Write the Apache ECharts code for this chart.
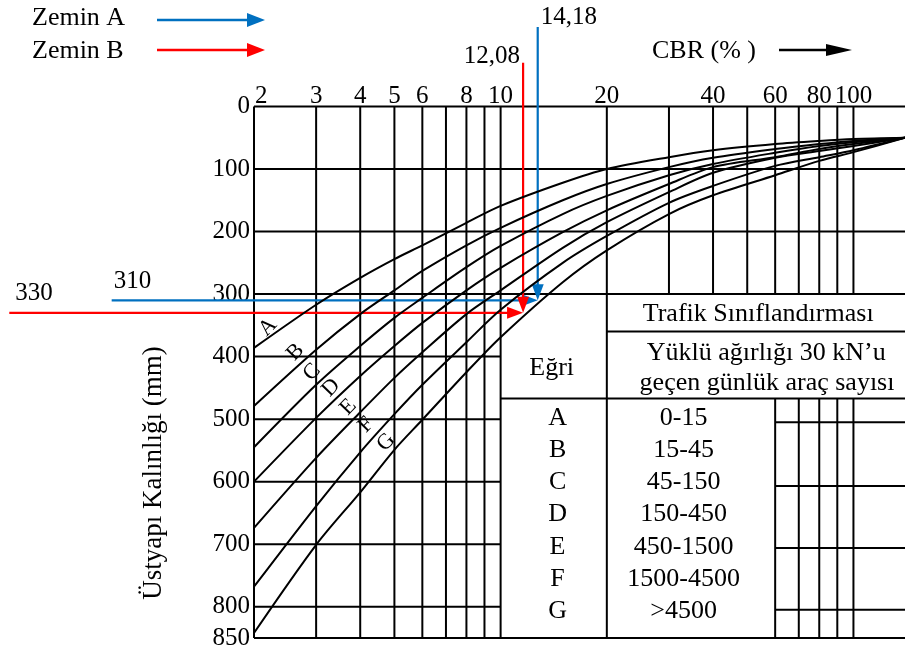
<!DOCTYPE html>
<html><head><meta charset="utf-8">
<script src="https://cdn.jsdelivr.net/npm/echarts@6/dist/echarts.min.js"></script>
<style>html,body{margin:0;padding:0;background:#fff}#c{width:905px;height:657px}</style>
</head><body><div id="c"></div>
<script>
// ---- data ----
const cbrPoints = [2,3,4,5,6,8,10,15,20,30,40,60,80,100,140];
const curveA = [386,317,274,244,222,186,159,122,100,81,70,60,55,52,50];
const curveB = [479,389,332,294,263,222,194,150,124,97,82,68,60,55,50];
const curveC = [545,445,383,338,306,257,223,172,143,110,92,74,63,57,50];
const curveD = [600,498,431,383,346,294,258,201,166,124,97,81,68,60,50];
const curveE = [674,562,489,434,393,332,294,226,185,137,106,82,71,63,50];
const curveF = [768,639,553,492,445,377,325,250,207,154,127,95,81,70,50];
const curveG = [842,701,617,549,501,425,369,281,230,172,142,110,87,73,50];
const curveNames = ['A','B','C','D','E','F','G'];
const trafficRanges = ['0-15','15-45','45-150','150-450','450-1500','1500-4500','>4500'];
const xTickLabels = [2,3,4,5,6,8,10,20,40,60,80,100];
const xGridLow = [2,3,4,5,6,7,8,9,10];
const xGridHigh = [20,30,40,50,60,70,80,90,100];
const yGridFull = [0,100,200,300,850];
const yGridLow = [400,500,600,700,800];
const soilNames = ['Zemin A','Zemin B'];
const soilThickness = [310,330];
const soilCbrText = ['14,18','12,08'];
const soilCbrDrawn = [12.74,11.58];
const soilColors = ['#0070C0','#FF0000'];
const curveLabelCbr = [2.19,2.62,2.92,3.31,3.70,4.16,4.74];
const curveLabelMm = [353,393,425,450,481,509,537];

const FONT = '"Liberation Serif", "Times New Roman", serif';
const curves = [curveA,curveB,curveC,curveD,curveE,curveF,curveG];

function renderFrame(params, api){
  const c = (x,y)=>api.coord([x,y]);
  const kids = [];
  const line = (x1,y1,x2,y2,color,w)=>{
    const a=c(x1,y1), b=c(x2,y2);
    kids.push({type:'line', shape:{x1:a[0],y1:a[1],x2:b[0],y2:b[1]}, style:{stroke:color||'#000', lineWidth:w||2}});
  };
  const text = (x,y,str,size,opt)=>{
    opt = opt||{};
    kids.push({type:'text', x:x, y:y, rotation:opt.rot||0,
      style:{text:str, font:size+'px '+FONT, fill:opt.color||'#000', align:opt.align||'center', verticalAlign:'middle'}});
  };
  yGridFull.forEach(v=>line(2,v,140,v));
  yGridLow.forEach(v=>line(2,v,10,v));
  xGridLow.forEach(v=>line(v,0,v,850));
  xGridHigh.forEach(v=>line(v,0,v,v===20?850:300));
  line(20,360,140,360);
  line(10,467,140,467);
  [60,70,80,90,100].forEach(v=>line(v,467,v,850));
  [505,607,706,805].forEach(v=>line(60,v,140,v));
  xTickLabels.forEach(v=>{
    const p=c(v,0);
    text(v===2?p[0]+1:p[0], p[1]-10, String(v), 25, {align:v===2?'left':'center'});
  });
  let p=c(53.7,332); text(p[0],p[1],'Trafik Sınıflandırması',26);
  p=c(56.6,394); text(p[0],p[1],'Yüklü ağırlığı 30 kN’u',26);
  p=c(56.9,442); text(p[0],p[1],'geçen günlük araç sayısı',26);
  p=c(13.95,418); text(p[0],p[1],'Eğri',26);
  curveNames.forEach((n,i)=>{
    const mm = 498 + i*51.5;
    let q=c(14.5,mm); text(q[0],q[1],n,26);
    q=c(33,mm); text(q[0],q[1],trafficRanges[i],26);
  });
  curveNames.forEach((n,i)=>{
    const q=c(curveLabelCbr[i],curveLabelMm[i]);
    text(q[0],q[1],n,22,{rot:0.8});
  });
  const startCbr=[0.79,0.405], topMm=[-127,-70];
  soilNames.forEach((n,i)=>{
    const col=soilColors[i];
    const tip=c(soilCbrDrawn[i],soilThickness[i]);
    const s=c(startCbr[i],soilThickness[i]);
    const t=c(soilCbrDrawn[i],topMm[i]);
    kids.push({type:'line',shape:{x1:s[0],y1:s[1],x2:tip[0]-14,y2:tip[1]},style:{stroke:col,lineWidth:2.2}});
    kids.push({type:'polygon',shape:{points:[[tip[0]-16,tip[1]-6],[tip[0],tip[1]],[tip[0]-16,tip[1]+6]]},style:{fill:col}});
    kids.push({type:'line',shape:{x1:t[0],y1:t[1],x2:tip[0],y2:tip[1]-14},style:{stroke:col,lineWidth:2.2}});
    kids.push({type:'polygon',shape:{points:[[tip[0]-6,tip[1]-16],[tip[0],tip[1]],[tip[0]+6,tip[1]-16]]},style:{fill:col}});
    text(s[0]+(i===0?2:6), s[1]-19, String(soilThickness[i]), 25, {align:'left'});
    if(i===0) text(t[0]+3, t[1]-10, soilCbrText[i], 25, {align:'left'});
    else text(t[0]-3, t[1]-6, soilCbrText[i], 25, {align:'right'});
  });
  return {type:'group', children:kids};
}

const chart = echarts.init(document.getElementById('c'), null, {renderer:'canvas'});
const series = curves.map((arr,i)=>({
  name: curveNames[i], type:'line', data: cbrPoints.map((x,k)=>[x,arr[k]]),
  smooth:0.3, symbol:'none', lineStyle:{color:'#000', width:2}, z:3, silent:true
}));
series.push({type:'custom', name:'frame', data:[[2,0]], renderItem:renderFrame, z:2, silent:true});

chart.setOption({
  animation:false,
  backgroundColor:'#fff',
  grid:{left:254, top:106.5, width:651, height:531.5, containLabel:false},
  xAxis:{type:'log', logBase:10, min:2, max:140, position:'top',
    axisLine:{show:false}, axisTick:{show:false}, axisLabel:{show:false}, splitLine:{show:false}},
  yAxis:{type:'value', inverse:true, min:0, max:850, interval:100,
    axisLine:{show:false}, axisTick:{show:false}, splitLine:{show:false},
    axisLabel:{fontSize:25, fontFamily:FONT, color:'#000', margin:4}},
  graphic:[
    {type:'text', x:32, y:18, style:{text:soilNames[0], font:'26px '+FONT, fill:'#000', align:'left', verticalAlign:'middle'}},
    {type:'line', shape:{x1:157,y1:20,x2:250,y2:20}, style:{stroke:soilColors[0], lineWidth:2.5}},
    {type:'polygon', shape:{points:[[247,13],[265,20],[247,27]]}, style:{fill:soilColors[0]}},
    {type:'text', x:32, y:51, style:{text:soilNames[1], font:'26px '+FONT, fill:'#000', align:'left', verticalAlign:'middle'}},
    {type:'line', shape:{x1:157,y1:50,x2:250,y2:50}, style:{stroke:soilColors[1], lineWidth:2.5}},
    {type:'polygon', shape:{points:[[247,43],[265,50],[247,57]]}, style:{fill:soilColors[1]}},
    {type:'text', x:652, y:51, style:{text:'CBR (% )', font:'26px '+FONT, fill:'#000', align:'left', verticalAlign:'middle'}},
    {type:'line', shape:{x1:779,y1:50,x2:830,y2:50}, style:{stroke:'#000', lineWidth:2.5}},
    {type:'polygon', shape:{points:[[826,44],[852,50],[826,56]]}, style:{fill:'#000'}},
    {type:'text', x:154, y:473, rotation:Math.PI/2, style:{text:'Üstyapı Kalınlığı (mm)', font:'27px '+FONT, fill:'#000', align:'center', verticalAlign:'middle'}}
  ],
  series: series
});
</script></body></html>
